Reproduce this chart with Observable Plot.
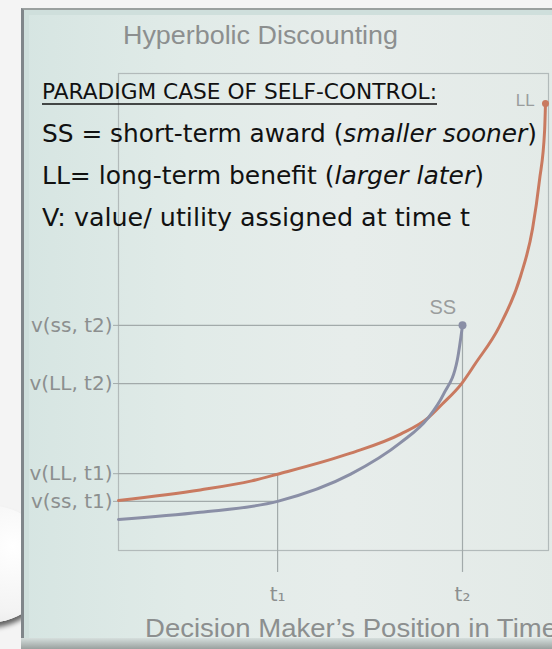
<!DOCTYPE html>
<html>
<head>
<meta charset="utf-8">
<script src="https://cdn.jsdelivr.net/npm/d3@7"></script>
<script src="https://cdn.jsdelivr.net/npm/@observablehq/plot@0.6"></script>
<style>
html,body{margin:0;padding:0;width:552px;height:649px;overflow:hidden;background:#f4f4f4;}
#outer{position:relative;width:552px;height:649px;overflow:hidden;}
#circle{position:absolute;left:-78px;top:505px;width:130px;height:118px;border-radius:50%;
  background:radial-gradient(circle at 70% 35%, #ffffff 0%, #f3f3f3 55%, #dcdcdc 100%);
  box-shadow:0 5px 5px rgba(0,0,0,0.6);}
#slide{position:absolute;left:21px;top:8px;width:545px;height:641px;box-sizing:border-box;
  background:linear-gradient(90deg,#d6e5e2 0%,#e1ebe8 30%,#e7edeb 60%,#e3eae7 100%);
  border-left:3px solid #80868a;border-top:2px solid #9aa09f;
  box-shadow: inset 5px 5px 0 #cfdfdc;}
#bottom{position:absolute;left:21px;top:638px;width:545px;height:11px;
  background:linear-gradient(#d5dedc,#9aa19f);}
#chart{position:absolute;left:0;top:0;}
</style>
</head>
<body>
<div id="outer">
  <div id="circle"></div>
  <div id="slide"></div>
  <div id="bottom"></div>
  <div id="chart"></div>
</div>
<script>
// ---- data ----
const tLabels = ["t\u2081", "t\u2082"];
const tTimes = [37, 80];
const yLabels = ["v(ss, t2)", "v(LL, t2)", "v(LL, t1)", "v(ss, t1)"];
const yValues = [47.2, 35.0, 16.1, 10.3];

const llTime  = [0, 19, 31, 37, 54, 65.6, 72, 75.3, 79.8, 83, 88.6, 93.5, 96.3, 97.9, 99.1, 99.3];
const llValue = [10.5, 12.7, 14.6, 16.0, 20.4, 24.4, 27.8, 30.7, 35.0, 39.2, 47.0, 57.5, 67.5, 77.6, 88.1, 93.7];

const ssTime  = [0, 19, 37, 54, 65.6, 72, 75.6, 78.8, 80];
const ssValue = [6.5, 8.0, 10.3, 16.0, 22.6, 27.8, 32.8, 40.0, 47.2];

// guide lines: horizontal (value, up to time) and vertical (time, up to value)
const hGuideValue = [47.2, 35.0, 16.1, 10.3];
const hGuideTime  = [80, 80, 37, 37];
const vGuideTime  = [37, 80];
const vGuideValue = [16.1, 47.2];
const guideFloor = -4.6;

const endLabels = ["LL", "SS"];
const endLabelTime = [94.6, 75.4];
const endLabelValue = [94.3, 50.9];

// ---- tables ----
const ll = llTime.map((t, i) => ({t, v: llValue[i]}));
const ss = ssTime.map((t, i) => ({t, v: ssValue[i]}));
const hGuides = hGuideValue.map((v, i) => ({v, t: hGuideTime[i]}));
const vGuides = vGuideTime.map((t, i) => ({t, v: vGuideValue[i]}));
const labs = endLabels.map((s, i) => ({s, t: endLabelTime[i], v: endLabelValue[i]}));

const gray = "#8c8f8f";
const guide = "#a2aaaa";
const red = "#c97a60";
const blue = "#8a8fa6";

const plot = Plot.plot({
  width: 552,
  height: 649,
  marginLeft: 118,
  marginRight: 4,
  marginTop: 73,
  marginBottom: 99,
  style: {background: "transparent", overflow: "visible"},
  x: {domain: [0, 100]},
  y: {domain: [0, 100]},
  marks: [
    Plot.frame({stroke: "#b2baba", strokeWidth: 1.2}),
    Plot.ruleY(hGuides, {y: "v", x1: 0, x2: "t", stroke: guide, strokeWidth: 1.2}),
    Plot.ruleX(vGuides, {x: "t", y1: guideFloor, y2: "v", stroke: guide, strokeWidth: 1.2}),
    Plot.axisY({ticks: yValues, tickFormat: d => yLabels[yValues.indexOf(d)], tickSize: 5, tickPadding: 1,
      fontSize: 20, fontFamily: "DejaVu Sans", color: gray, stroke: guide, label: null}),
    Plot.axisX({ticks: tTimes, tickFormat: d => tLabels[tTimes.indexOf(d)], tickSize: 0, tickPadding: 36,
      fontSize: 20, fontFamily: "DejaVu Sans", color: gray, label: null}),
    Plot.line(ll, {x: "t", y: "v", stroke: red, strokeWidth: 3, curve: "monotone-x"}),
    Plot.line(ss, {x: "t", y: "v", stroke: blue, strokeWidth: 3, curve: "monotone-x"}),
    Plot.dot([ll[ll.length - 1]], {x: "t", y: "v", r: 3.5, fill: red}),
    Plot.dot([ss[ss.length - 1]], {x: "t", y: "v", r: 4, fill: blue}),
    Plot.text(labs, {x: "t", y: "v", text: "s", fill: "#9a9d9d", fontSize: d => d.s === "SS" ? 20 : 17,
      fontFamily: "Liberation Sans"})
  ]
});
document.getElementById("chart").appendChild(plot);

// ---- slide texts ----
const svg = d3.select(plot);
function addText(x, y, parts, size, len, fill, family) {
  const t = svg.append("text").attr("x", x).attr("y", y).attr("text-anchor", "start")
    .attr("font-size", size).attr("font-family", family).attr("fill", fill)
    .attr("textLength", len).attr("lengthAdjust", "spacingAndGlyphs");
  parts.forEach(p => t.append("tspan").text(p[0]).attr("font-style", p[1] ? "italic" : "normal"));
  return t;
}
addText(123, 44, [["Hyperbolic Discounting", false]], 26, 275, gray, "Liberation Sans");
addText(145, 637, [["Decision Maker\u2019s Position in Time", false]], 26, 412, gray, "Liberation Sans");

const ink = "#111111";
const body = "DejaVu Sans";
addText(42, 99, [["PARADIGM CASE OF SELF-CONTROL:", false]], 21, 395, ink, body);
svg.append("line").attr("x1", 42).attr("x2", 437).attr("y1", 104).attr("y2", 104)
  .attr("stroke", ink).attr("stroke-width", 1.6);
addText(42, 142, [["SS = short-term award (", false], ["smaller sooner", true], [")", false]], 24, 495, ink, body);
addText(42, 184, [["LL= long-term benefit (", false], ["larger later", true], [")", false]], 24, 442, ink, body);
addText(42, 226, [["V: value/ utility assigned at time t", false]], 24, 428, ink, body);
</script>
</body>
</html>
